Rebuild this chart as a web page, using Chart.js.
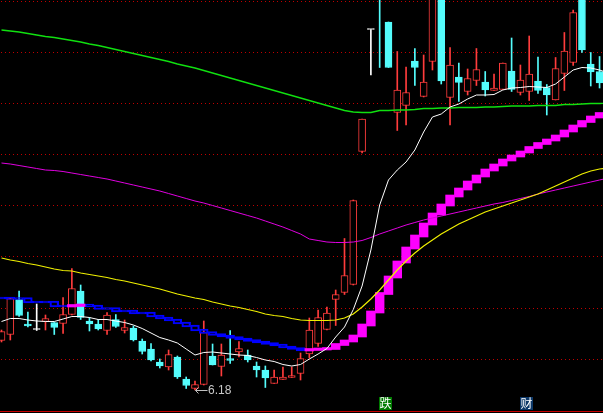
<!DOCTYPE html>
<html><head><meta charset="utf-8">
<style>html,body{margin:0;padding:0;background:#000;overflow:hidden}canvas{display:block}</style>
<script src="https://cdn.jsdelivr.net/npm/chart.js@4.4.1/dist/chart.umd.min.js"></script>
</head><body>
<canvas id="c" width="603" height="413"></canvas>
<script>
// ---- data (prices) ----
const OPEN=[7.17,7.29,7.99,7.50,7.39,7.55,7.53,7.51,7.69,8.16, 7.56,7.50,7.37,7.59,7.37,7.42,7.16,7.00,6.74,6.64,
 6.84,6.40,6.21,6.29,6.86,6.65,6.81,6.94,6.88,6.66, 6.58,6.31,6.39,6.43,6.51,6.90,7.11,7.39,7.99,8.13,
 8.29,10.95,13.39,14.80,13.54,11.73,11.87,12.76,12.05,12.75, 14.38,12.03,12.44,12.15,12.37,12.34,12.17,12.19,12.56,12.13,
 12.15,12.36,12.23,11.98,12.51,12.73,14.18,12.70,12.55,12.18];
const CLOSE=[7.35,8.01,7.67,7.46,7.39,7.61,7.43,7.69,8.21,7.63, 7.50,7.40,7.68,7.45,7.43,7.18,6.95,6.78,6.66,6.89,
 6.44,6.27,6.29,7.33,6.68,6.88,6.77,7.01,6.78,6.58, 6.42,6.44,6.44,6.47,6.81,7.38,7.63,7.72,8.09,8.47,
 9.97,11.60,13.39,14.20,12.63,12.18,12.13,12.63,12.34,14.38, 12.36,12.68,12.33,12.41,12.59,12.18,12.22,12.72,12.19,12.38,
 12.50,12.17,12.08,12.61,12.96,13.73,12.98,12.54,12.32,12.08];
const HIGH=[7.38,8.02,8.16,7.74,7.90,7.68,7.53,8.03,8.61,8.28, 7.63,7.59,7.73,7.69,7.58,7.46,7.20,7.11,6.80,6.98,
 6.86,6.44,6.36,7.56,7.10,7.10,7.37,7.15,6.98,6.74, 6.66,6.58,6.64,6.64,6.92,7.62,7.78,7.84,8.18,9.21,
 9.98,11.60,13.39,14.90,13.54,12.95,12.64,13.01,12.88,14.50, 14.50,13.03,12.72,12.60,13.01,12.55,12.50,12.72,13.22,12.68,
 13.26,12.84,12.29,12.83,13.33,13.78,14.30,12.93,12.85,12.22];
const LOW=[7.14,7.18,7.65,7.44,7.37,7.38,7.29,7.31,7.68,7.59, 7.36,7.38,7.29,7.43,7.32,7.16,6.90,6.76,6.62,6.58,
 6.41,6.21,6.18,6.28,6.68,6.46,6.71,6.84,6.74,6.44, 6.23,6.31,6.39,6.43,6.38,6.82,7.05,7.38,7.47,8.09,
 8.28,10.92,12.48,12.63,12.63,11.37,11.48,12.27,12.04,12.58, 12.30,11.48,11.95,12.08,12.27,12.06,12.17,12.19,12.15,12.08,
 11.97,12.11,11.68,11.98,12.17,12.67,12.93,12.26,12.22,12.06];
const MA_WHITE=[7.55,7.61,7.61,7.58,7.56,7.55,7.55,7.60,7.65,7.65, 7.63,7.59,7.59,7.56,7.53,7.48,7.41,7.32,7.23,7.18,
 7.12,7.00,6.88,6.93,6.94,6.92,6.90,6.88,6.87,6.83, 6.78,6.75,6.69,6.66,6.69,6.80,6.90,7.01,7.24,7.44,
 7.79,8.26,8.98,9.88,10.38,10.58,10.74,10.98,11.34,11.64, 11.70,11.84,11.90,12.00,12.08,12.08,12.09,12.18,12.22,12.23,
 12.25,12.24,12.23,12.30,12.44,12.58,12.63,12.62,12.58,12.52];
const MA_YELLOW=[8.82,8.78,8.75,8.71,8.68,8.64,8.60,8.57,8.56,8.52, 8.49,8.46,8.43,8.39,8.36,8.32,8.28,8.24,8.20,8.15,
 8.10,8.06,8.02,7.99,7.94,7.90,7.86,7.83,7.79,7.75, 7.70,7.67,7.65,7.61,7.58,7.57,7.57,7.57,7.58,7.62,
 7.70,7.84,8.00,8.18,8.38,8.58,8.76,8.92,9.06,9.18, 9.30,9.40,9.50,9.58,9.66,9.74,9.80,9.86,9.92,9.98,
 10.04,10.10,10.18,10.26,10.34,10.42,10.50,10.56,10.60,10.62];
const MA_PURPLE=[10.72,10.70,10.67,10.64,10.61,10.58,10.57,10.55,10.52,10.49, 10.46,10.43,10.40,10.36,10.32,10.28,10.24,10.20,10.16,10.11,
 10.06,10.01,9.96,9.92,9.87,9.82,9.77,9.72,9.67,9.62, 9.56,9.50,9.44,9.37,9.30,9.20,9.17,9.14,9.13,9.13,
 9.14,9.17,9.23,9.30,9.36,9.42,9.48,9.53,9.58,9.62, 9.66,9.70,9.74,9.78,9.82,9.86,9.90,9.93,9.97,10.01,
 10.05,10.10,10.14,10.18,10.22,10.26,10.30,10.34,10.38,10.42];
const MA_GREEN=[13.38,13.36,13.34,13.31,13.28,13.25,13.23,13.20,13.17,13.14, 13.10,13.07,13.03,12.99,12.95,12.91,12.87,12.83,12.79,12.75,
 12.70,12.66,12.62,12.57,12.52,12.47,12.42,12.37,12.32,12.27, 12.22,12.17,12.12,12.07,12.02,11.97,11.92,11.87,11.82,11.77,
 11.74,11.73,11.73,11.77,11.77,11.78,11.78,11.79,11.81,11.81, 11.82,11.82,11.83,11.83,11.83,11.84,11.84,11.85,11.86,11.86,
 11.86,11.87,11.87,11.87,11.89,11.89,11.90,11.91,11.91,11.92];
const STEP=[8.02,8.01,8.01,7.94,7.94,7.94,7.86,7.86,7.87,7.88, 7.86,7.81,7.81,7.76,7.76,7.72,7.72,7.66,7.62,7.58,
 7.52,7.46,7.38,7.33,7.29,7.26,7.23,7.20,7.17,7.14, 7.11,7.08,7.04,7.01,6.98,6.99,7.00,7.01,7.09,7.16,
 7.26,7.48,7.74,8.11,8.44,8.74,9.02,9.26,9.50,9.70, 9.88,10.06,10.20,10.34,10.46,10.58,10.68,10.78,10.86,10.94,
 11.03,11.11,11.18,11.26,11.36,11.46,11.55,11.64,11.71,11.75];
const GRID_LEVELS=[13.97,12.94,11.92,10.90,9.88,8.86,7.83,6.81];
const LOW_MARK_INDEX=22, LOW_MARK_VALUE=6.18, LOW_MARK_TEXT='6.18';
const MARK_INDEX=[44,60], MARK_TEXT=['跌','财'], MARK_BG=['#007a00','#0d3868'];

// ---- styles ----
const RED='#ff3c3c', CYAN='#54fcfc', WHITE='#ffffff';
const col=i=>CLOSE[i]>OPEN[i]?RED:(CLOSE[i]<OPEN[i]?CYAN:WHITE);
const wick=OPEN.map((_,i)=>({x:i,y:[LOW[i],HIGH[i]]}));
const body=OPEN.map((_,i)=>({x:i,y:[Math.min(OPEN[i],CLOSE[i]),Math.max(OPEN[i],CLOSE[i])]}));
const E=0.02;
const stepUp=[],stepDn=[];
STEP.forEach((v,i)=>{
  const p=i>0?STEP[i-1]:v;
  const blk=[Math.min(p,v)-E,Math.max(p,v)+E];
  if(v>p){stepUp.push({x:i,y:blk});stepDn.push({x:i,y:null});}
  else{stepDn.push({x:i,y:blk});stepUp.push({x:i,y:null});}
});
const line=(arr)=>arr.map((v,i)=>({x:i,y:v}));

const bg={id:'bg',
 beforeDraw(ch){const c=ch.ctx;c.save();c.fillStyle='#000';c.fillRect(0,0,ch.width,ch.height);c.restore();},
 beforeDatasetsDraw(ch){const c=ch.ctx,ys=ch.scales.y;c.save();c.fillStyle='#c00000';
   for(const g of GRID_LEVELS){const py=Math.round(ys.getPixelForValue(g));for(let x=1;x<ch.width;x+=4)c.fillRect(x,py,1,1);}
   c.restore();},
 afterDatasetsDraw(ch){const c=ch.ctx,xs=ch.scales.x,ys=ch.scales.y;c.save();
   c.fillStyle='#c80000';c.fillRect(0,ch.chartArea.bottom-2,ch.width,1);
   const px=Math.round(xs.getPixelForValue(LOW_MARK_INDEX)),py=Math.round(ys.getPixelForValue(LOW_MARK_VALUE));
   c.strokeStyle='#c0c0c0';c.lineWidth=1;c.beginPath();
   c.moveTo(px+0.5,py+0.5);c.lineTo(px+12.5,py+0.5);
   c.moveTo(px+0.5,py+0.5);c.lineTo(px+3.5,py-2.5);
   c.moveTo(px+0.5,py+0.5);c.lineTo(px+3.5,py+3.5);c.stroke();
   c.fillStyle='#c8c8c8';c.font='12px "Liberation Sans"';c.textBaseline='middle';c.textAlign='left';
   c.fillText(LOW_MARK_TEXT,px+13,py+1);
   MARK_INDEX.forEach((idx,k)=>{const cx=xs.getPixelForValue(idx);const left=Math.round(cx-9);
     c.fillStyle=MARK_BG[k];c.fillRect(left,397,13,13);
     c.fillStyle='#ffffff';c.font='12px "Noto Sans CJK SC"';c.textAlign='center';c.textBaseline='middle';
     c.fillText(MARK_TEXT[k],left+6.5,403.5);});
   c.restore();}
};

new Chart(document.getElementById('c'),{
 type:'bar',
 data:{datasets:[
  {type:'line',data:line(MA_WHITE),borderColor:'#ffffff',borderWidth:1,pointRadius:0,tension:0,order:1},
  {type:'line',data:line(MA_YELLOW),borderColor:'#f0f000',borderWidth:1.2,pointRadius:0,tension:0,order:2},
  {type:'line',data:line(MA_PURPLE),borderColor:'#e000e0',borderWidth:1,pointRadius:0,tension:0,order:3},
  {type:'line',data:line(MA_GREEN),borderColor:'#10e010',borderWidth:1.3,pointRadius:0,tension:0,order:4},
  {data:stepUp,backgroundColor:'#ff00ff',borderWidth:0,grouped:false,categoryPercentage:1,barPercentage:1,order:5},
  {data:stepDn,backgroundColor:'rgba(0,0,0,0)',borderColor:'#0000ff',borderWidth:1.5,borderSkipped:false,grouped:false,categoryPercentage:1,barPercentage:1,order:6},
  {data:body,backgroundColor:body.map((_,i)=>col(i)===RED?'#000000':col(i)),borderColor:body.map((_,i)=>col(i)),borderWidth:1,borderSkipped:false,barThickness:7,minBarLength:1,grouped:false,order:7},
  {data:wick,backgroundColor:wick.map((_,i)=>col(i)),borderWidth:0,barThickness:1,grouped:false,order:8}
 ]},
 options:{responsive:false,animation:false,events:[],devicePixelRatio:1,
  layout:{padding:0},
  plugins:{legend:{display:false},tooltip:{enabled:false}},
  scales:{
   x:{type:'linear',min:-0.1706,max:68.392,display:false,offset:false},
   y:{type:'linear',min:5.72,max:13.98,display:false}
  }},
 plugins:[bg]
});
</script>
</body></html>
